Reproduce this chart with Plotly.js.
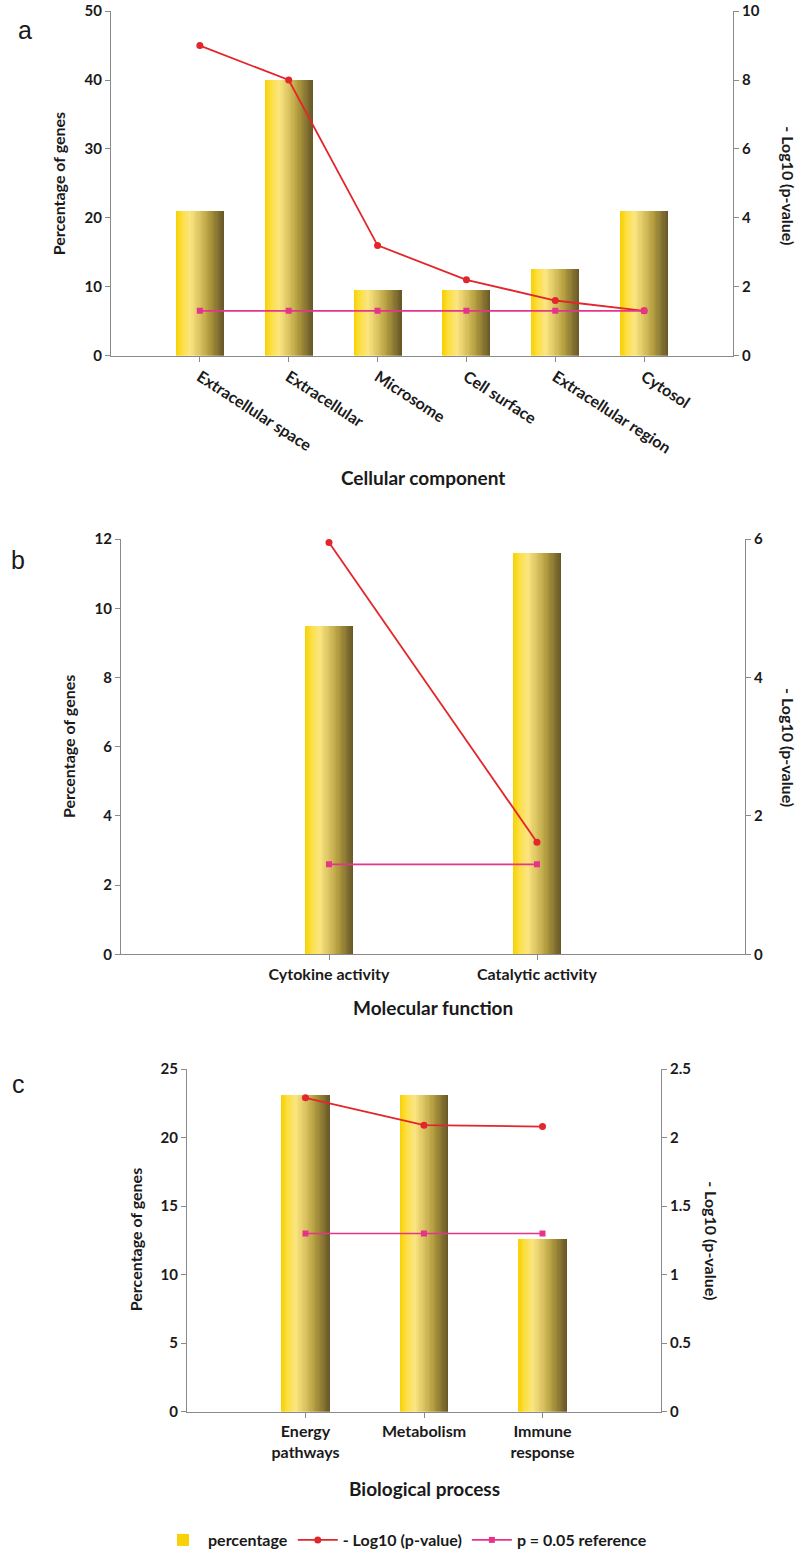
<!DOCTYPE html>
<html>
<head>
<meta charset="utf-8">
<script src="https://cdn.plot.ly/plotly-3.0.1.min.js"></script>
<style>html,body{margin:0;padding:0;background:#fff;}#chart{width:800px;height:1557px;}</style>
</head>
<body>
<div id="chart"></div>
<script>
// ---------- data ----------
const catA = ['Extracellular space', 'Extracellular', 'Microsome', 'Cell surface', 'Extracellular region', 'Cytosol'];
const pctA = [21, 40, 9.5, 9.5, 12.6, 21];
const logA = [9.0, 8.0, 3.2, 2.2, 1.6, 1.3];
const refA = [1.3, 1.3, 1.3, 1.3, 1.3, 1.3];

const catB = ['Cytokine activity', 'Catalytic activity'];
const pctB = [9.5, 11.6];
const logB = [5.95, 1.62];
const refB = [1.3, 1.3];

const catC = ['Energy<br>pathways', 'Metabolism', 'Immune<br>response'];
const pctC = [23.1, 23.1, 12.6];
const logC = [2.29, 2.09, 2.08];
const refC = [1.3, 1.3, 1.3];

const seriesNames = ['percentage', '- Log10 (p-value)', 'p = 0.05 reference'];
const panelLetters = ['a', 'b', 'c'];
const xTitles = ['Cellular component', 'Molecular function', 'Biological process'];
const yTitleLeft = 'Percentage of genes';
const yTitleRight = '- Log10 (p-value)';

// ---------- helpers ----------
const W = 800, H = 1557;
const X = px => px / W;
const Y = py => 1 - py / H;
const FONT = 'Lato, "Open Sans", Arial, sans-serif';
const TXT = '#1a1a1a';
const AX = '#8a8a8a';

// gradient stops for the cylinder-like bars
const stops = [
  [0.00, [247, 208, 0]],
  [0.12, [252, 222, 60]],
  [0.30, [251, 230, 130]],
  [0.50, [218, 194, 95]],
  [0.70, [176, 154, 62]],
  [0.85, [138, 119, 52]],
  [1.00, [102, 86, 38]]
];
function gradColor(t) {
  for (let i = 0; i < stops.length - 1; i++) {
    const [t0, c0] = stops[i], [t1, c1] = stops[i + 1];
    if (t >= t0 && t <= t1) {
      const f = (t - t0) / (t1 - t0);
      const c = c0.map((v, k) => Math.round(v + (c1[k] - v) * f));
      return `rgb(${c[0]},${c[1]},${c[2]})`;
    }
  }
  return 'rgb(102,86,38)';
}

const NS = 40;
const traces = [];
function addPanel(cats, pct, logv, refv, xa, yl, yr, barW, showLeg) {
  const sw = barW / NS;
  for (let i = 0; i < NS; i++) {
    const last = i === NS - 1;
    traces.push({
      type: 'bar', x: cats, y: pct, xaxis: xa, yaxis: yl,
      width: last ? sw : sw * 2, offset: -barW / 2 + i * sw,
      marker: {color: gradColor((i + 0.5) / NS), line: {width: 0}},
      name: seriesNames[0], legendgroup: 'pct',
      showlegend: showLeg && i === 0, hoverinfo: 'skip'
    });
  }
  traces.push({
    type: 'scatter', mode: 'lines+markers', x: cats, y: logv, xaxis: xa, yaxis: yr,
    line: {color: '#e2262b', width: 1.8}, marker: {symbol: 'circle', size: 7, color: '#e2262b'},
    name: seriesNames[1], legendgroup: 'log', showlegend: showLeg
  });
  traces.push({
    type: 'scatter', mode: 'lines+markers', x: cats, y: refv, xaxis: xa, yaxis: yr,
    line: {color: '#e6348c', width: 1.6}, marker: {symbol: 'square', size: 6, color: '#e6348c'},
    name: seriesNames[2], legendgroup: 'ref', showlegend: showLeg
  });
}
addPanel(catA, pctA, logA, refA, 'x', 'y', 'y2', 0.54, true);
addPanel(catB, pctB, logB, refB, 'x2', 'y3', 'y4', 0.23, false);
addPanel(catC, pctC, logC, refC, 'x3', 'y5', 'y6', 0.41, false);

const tickFont = {family: FONT, size: 15, color: TXT, weight: 'bold'};
const catFont = {family: FONT, size: 16, color: TXT, weight: 'bold'};
function xax(dom, anchor, range, angle) {
  return {domain: dom, anchor: anchor, type: 'category', range: range,
    showline: true, linecolor: AX, linewidth: 1, ticks: 'outside', ticklen: 5, tickcolor: AX,
    showgrid: false, zeroline: false, tickfont: catFont, tickangle: angle, automargin: false,
    ticklabeloverflow: 'allow', fixedrange: true};
}
function yax(dom, anchor, top, dtick, side, overlaying) {
  const o = {domain: dom, anchor: anchor, range: [0, top * 1.0005], dtick: dtick, tick0: 0, side: side,
    showline: true, linecolor: AX, linewidth: 1, ticks: 'outside', ticklen: 5, tickcolor: AX,
    showgrid: false, zeroline: false, tickfont: tickFont, automargin: false,
    ticklabeloverflow: 'allow', fixedrange: true};
  if (overlaying) o.overlaying = overlaying;
  return o;
}

const domA = [Y(357), Y(11)], domB = [Y(958), Y(541)], domC = [Y(1417), Y(1073)];
const xdA = [X(111), X(733)], xdB = [X(121), X(745)], xdC = [X(187), X(661)];

const layout = {
  width: W, height: H, margin: {l: 0, r: 0, t: 0, b: 0},
  paper_bgcolor: '#fff', plot_bgcolor: 'rgba(0,0,0,0)',
  barmode: 'overlay', bargap: 0,
  font: {family: FONT, color: TXT},
  xaxis: xax(xdA, 'y', [-1, 6], 33),
  yaxis: yax(domA, 'x', 50, 10, 'left'),
  yaxis2: yax(domA, 'x', 10, 2, 'right', 'y'),
  xaxis2: xax(xdB, 'y3', [-1, 2], 0),
  yaxis3: yax(domB, 'x2', 12, 2, 'left'),
  yaxis4: yax(domB, 'x2', 6, 2, 'right', 'y3'),
  xaxis3: xax(xdC, 'y5', [-1, 3], 0),
  yaxis5: yax(domC, 'x3', 25, 5, 'left'),
  yaxis6: yax(domC, 'x3', 2.5, 0.5, 'right', 'y5'),
  showlegend: true,
  legend: {orientation: 'h', x: X(158), xanchor: 'left', y: Y(1546), yanchor: 'middle',
    font: {family: FONT, size: 16, color: TXT, weight: 'bold'}, bgcolor: 'rgba(0,0,0,0)', itemwidth: 40},
  annotations: []
};

const ann = layout.annotations;
function txt(text, px, py, size, angle, bold, fam) {
  ann.push({text: text, xref: 'paper', yref: 'paper', x: X(px), y: Y(py), xanchor: 'center', yanchor: 'middle',
    showarrow: false, textangle: angle || 0,
    font: {family: fam || FONT, size: size, color: TXT, weight: bold ? 'bold' : 'normal'}});
}
// panel letters
txt(panelLetters[0], 25, 30, 25, 0, false, 'Arial, Liberation Sans, sans-serif');
txt(panelLetters[1], 18, 562, 25, 0, false, 'Arial, Liberation Sans, sans-serif');
txt(panelLetters[2], 18, 1088, 25, 0, false, 'Arial, Liberation Sans, sans-serif');
// x titles
txt(xTitles[0], 423, 479, 19, 0, true);
txt(xTitles[1], 433, 1011, 19, 0, true);
txt(xTitles[2], 424, 1494, 19, 0, true);
// left y titles
txt(yTitleLeft, 58, 184, 16, -90, true);
txt(yTitleLeft, 68, 750, 16, -90, true);
txt(yTitleLeft, 135, 1245, 16, -90, true);
// right y titles
txt(yTitleRight, 789, 186, 16, 90, true);
txt(yTitleRight, 789, 750, 16, 90, true);
txt(yTitleRight, 712, 1245, 16, 90, true);

Plotly.newPlot('chart', traces, layout, {staticPlot: true, displayModeBar: false});
</script>
</body>
</html>
